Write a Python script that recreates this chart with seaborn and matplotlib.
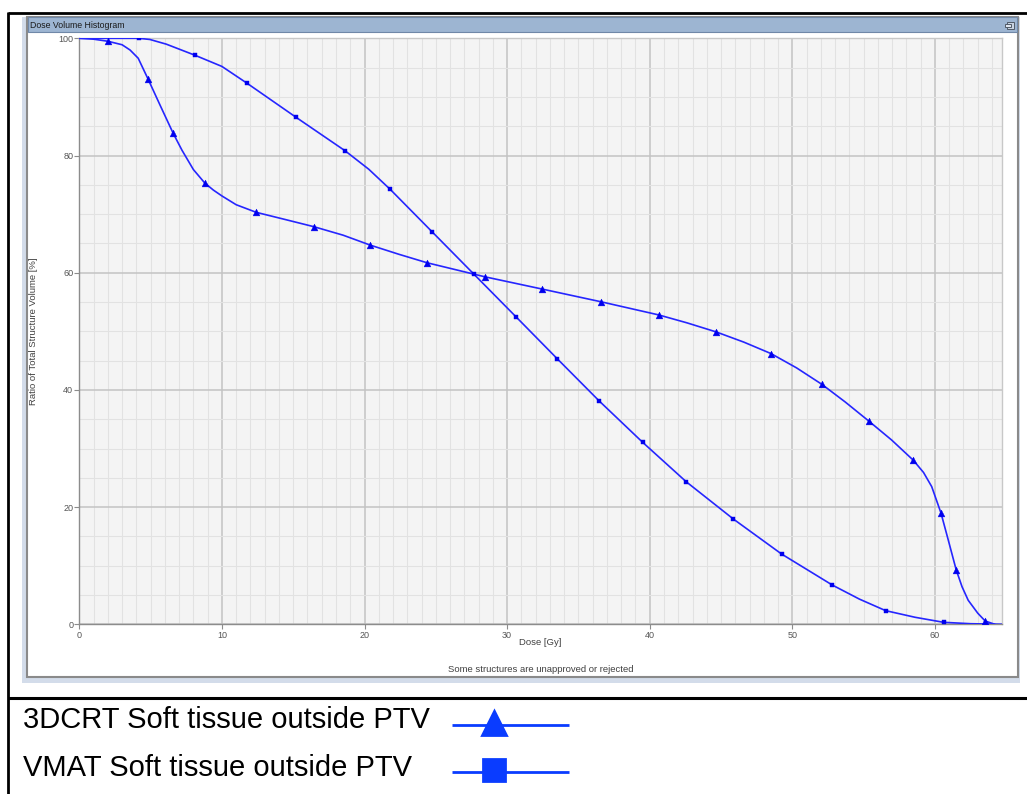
import matplotlib
matplotlib.use("Agg")
import matplotlib.pyplot as plt
import seaborn as sns
import pandas as pd
from matplotlib.patches import Rectangle
from matplotlib.lines import Line2D
from matplotlib.ticker import MultipleLocator, FixedLocator

# ---------------- data ----------------
series_labels = ["3DCRT Soft tissue outside PTV", "VMAT Soft tissue outside PTV"]

# 3DCRT curve
crt_line_dose = [0, 1.0, 2.0, 3.0, 3.56, 4.13, 4.83, 5.7, 6.58, 7.2, 8.0, 8.8, 9.4, 10.0, 11.0,
                 12.41, 14.4, 16.45, 18.5, 20.41, 22.4, 24.38, 28.44, 32.47, 36.56, 40.62,
                 42.6, 44.65, 46.6, 48.5, 50.3, 52.07, 53.7, 55.35, 56.96, 58.48, 59.2,
                 59.77, 60.42, 60.93, 61.49, 61.9, 62.33, 63.0, 63.52, 64.2]
crt_line_vol = [100, 99.85, 99.5, 98.9, 98.0, 96.6, 93.0, 88.4, 83.8, 80.9, 77.6, 75.3, 74.1,
                73.1, 71.6, 70.3, 69.1, 67.85, 66.4, 64.7, 63.15, 61.7, 59.3, 57.2, 55.05,
                52.8, 51.45, 49.9, 48.15, 46.2, 43.75, 40.95, 37.95, 34.7, 31.45, 28.0,
                25.9, 23.5, 19.0, 14.4, 9.27, 6.4, 4.1, 1.9, 0.56, 0.0]
# 3DCRT markers
crt_mark_dose = [2.0, 4.83, 6.58, 8.8, 12.41, 16.45, 20.41, 24.38, 28.44, 32.47, 36.56,
                 40.62, 44.65, 48.5, 52.07, 55.35, 58.48, 60.42, 61.49, 63.52]
crt_mark_vol = [99.5, 93.0, 83.8, 75.3, 70.3, 67.85, 64.7, 61.7, 59.3, 57.2, 55.05,
                52.8, 49.9, 46.2, 40.95, 34.7, 28.0, 19.0, 9.27, 0.56]

# VMAT curve
vmat_line_dose = [0, 2.0, 4.18, 4.95, 6.1, 8.12, 10.0, 11.78, 15.21, 18.64, 20.3, 21.81,
                  24.73, 27.69, 30.61, 33.52, 36.46, 39.5, 42.57, 45.86, 49.24, 52.8,
                  54.7, 56.54, 58.6, 60.6, 62.5, 64.7]
vmat_line_vol = [100, 100, 100, 99.8, 99.0, 97.1, 95.2, 92.3, 86.5, 80.8, 77.65, 74.2,
                 67.0, 59.7, 52.5, 45.3, 38.1, 31.06, 24.3, 17.97, 12.0, 6.7,
                 4.3, 2.33, 1.2, 0.34, 0.1, 0.0]
# VMAT markers
vmat_mark_dose = [4.18, 8.12, 11.78, 15.21, 18.64, 21.81, 24.73, 27.69, 30.61, 33.52,
                  36.46, 39.5, 42.57, 45.86, 49.24, 52.8, 56.54, 60.6]
vmat_mark_vol = [100, 97.1, 92.3, 86.5, 80.8, 74.2, 67.0, 59.7, 52.5, 45.3,
                 38.1, 31.06, 24.3, 17.97, 12.0, 6.7, 2.33, 0.34]

x_ticks = [0, 10, 20, 30, 40, 50, 60]
y_ticks = [0, 20, 40, 60, 80, 100]
x_label = "Dose [Gy]"
y_label = "Ratio of Total Structure Volume [%]"
window_title = "Dose Volume Histogram"
footnote = "Some structures are unapproved or rejected"

# ---------------- styling ----------------
W, H = 1027, 794
sns.set_style("ticks")
plt.rcParams["font.family"] = ["Liberation Sans", "DejaVu Sans"]

LINE_BLUE = "#2626ff"
MARK_BLUE = "#0000ee"
LEG_BLUE = "#0a3cff"


def fx(px):
    return px / W


def fy(py):
    return 1 - py / H


fig = plt.figure(figsize=(W / 100, H / 100), dpi=100)
fig.patch.set_facecolor("white")

# window frame pieces (drawn behind the axes)
fig.patches.append(Rectangle((fx(22), fy(683)), fx(1020) - fx(22), fy(17) - fy(683),
                             transform=fig.transFigure, facecolor="#d3dcea",
                             edgecolor="none", zorder=-10))
fig.patches.append(Rectangle((fx(26.5), fy(677)), fx(1018) - fx(26.5), fy(17) - fy(677),
                             transform=fig.transFigure, facecolor="white",
                             edgecolor="#8a8a8a", lw=1.5, zorder=-9))
fig.patches.append(Rectangle((fx(27.5), fy(32)), fx(1017) - fx(27.5), fy(17.5) - fy(32),
                             transform=fig.transFigure, facecolor="#9db5d2",
                             edgecolor="#7088a8", lw=0.8, zorder=-8))
# restore icon in title bar
fig.patches.append(Rectangle((fx(1007), fy(29)), fx(1014) - fx(1007), fy(22) - fy(29),
                             transform=fig.transFigure, facecolor="#c8d3e2",
                             edgecolor="#505a68", lw=0.7, zorder=-7))
fig.patches.append(Rectangle((fx(1005), fy(27)), fx(1011) - fx(1005), fy(24) - fy(27),
                             transform=fig.transFigure, facecolor="#dde4ee",
                             edgecolor="#505a68", lw=0.7, zorder=-6))

# black outer lines
fig.add_artist(Line2D([fx(8), fx(1027)], [fy(13), fy(13)], transform=fig.transFigure,
                      color="black", lw=2.0, solid_capstyle="butt"))
fig.add_artist(Line2D([fx(8), fx(8)], [fy(12), fy(794)], transform=fig.transFigure,
                      color="black", lw=2.0, solid_capstyle="butt"))
fig.add_artist(Line2D([fx(8), fx(1027)], [fy(697.5), fy(697.5)], transform=fig.transFigure,
                      color="black", lw=2.2, solid_capstyle="butt"))

fig.text(fx(29.5), fy(25), window_title, fontsize=6.3, color="#1a1a1a",
         ha="left", va="center")

# ---------------- axes ----------------
left, right, top, bottom = 79.3, 1002, 38.3, 624.3
ax = fig.add_axes([fx(left), fy(bottom), fx(right) - fx(left), fy(top) - fy(bottom)])
ax.set_facecolor("#f4f4f4")

crt_line = pd.DataFrame({"dose": crt_line_dose, "vol": crt_line_vol})
vmat_line = pd.DataFrame({"dose": vmat_line_dose, "vol": vmat_line_vol})
crt_mark = pd.DataFrame({"dose": crt_mark_dose, "vol": crt_mark_vol})
vmat_mark = pd.DataFrame({"dose": vmat_mark_dose, "vol": vmat_mark_vol})

sns.lineplot(data=crt_line, x="dose", y="vol", ax=ax, color=LINE_BLUE, lw=1.2,
             sort=False, estimator=None, zorder=3)
sns.lineplot(data=vmat_line, x="dose", y="vol", ax=ax, color=LINE_BLUE, lw=1.2,
             sort=False, estimator=None, zorder=3)
sns.scatterplot(data=crt_mark, x="dose", y="vol", ax=ax, marker="^", s=24,
                color=MARK_BLUE, edgecolor=MARK_BLUE, linewidth=0.3, zorder=4)
sns.scatterplot(data=vmat_mark, x="dose", y="vol", ax=ax, marker="s", s=12,
                color=MARK_BLUE, edgecolor=MARK_BLUE, linewidth=0.3, zorder=4)

ax.set_xlim(0, 64.7)
ax.set_ylim(0, 100)
ax.xaxis.set_major_locator(FixedLocator(x_ticks))
ax.yaxis.set_major_locator(FixedLocator(y_ticks))
ax.xaxis.set_minor_locator(MultipleLocator(1))
ax.yaxis.set_minor_locator(MultipleLocator(5))
ax.set_axisbelow(True)
ax.grid(which="minor", color="#e2e2e2", lw=0.8)
ax.grid(which="major", color="#c3c3c3", lw=1.1)

for side in ["left", "bottom"]:
    ax.spines[side].set_color("#8c8c8c")
    ax.spines[side].set_linewidth(1.0)
for side in ["top", "right"]:
    ax.spines[side].set_color("#c8c8c8")
    ax.spines[side].set_linewidth(1.0)

ax.tick_params(which="major", length=3.6, width=0.8, color="#8c8c8c",
               labelsize=6.5, labelcolor="#555555")
ax.tick_params(axis="x", pad=1.2)
ax.tick_params(axis="y", pad=0.8)
ax.tick_params(which="minor", length=0)

ax.set_xlabel(x_label, fontsize=6.8, color="#404040")
ax.set_ylabel(y_label, fontsize=6.8, color="#404040")
ax.xaxis.set_label_coords(0.5, (bottom - 638.0) / (bottom - top))
ax.yaxis.set_label_coords((38.0 - left) / (right - left), 0.5)

fig.text(fx(540.6), fy(670), footnote, fontsize=6.8, color="#404040",
         ha="center", va="center")

# ---------------- legend (drawn below the window) ----------------
leg_rows = [(728, 724.7, "^", 17), (776, 771.7, "s", 16.5)]
for label, (base_y, line_y, mk, ms) in zip(series_labels, leg_rows):
    fig.text(fx(23), fy(base_y), label, fontsize=21, color="black",
             ha="left", va="baseline")
    fig.add_artist(Line2D([fx(451.7), fx(569)], [fy(line_y), fy(line_y)],
                          transform=fig.transFigure, color=LEG_BLUE, lw=2.0,
                          solid_capstyle="butt"))
    fig.add_artist(Line2D([fx(493.5)], [fy(line_y - 1.5 if mk == "^" else line_y - 2)],
                          transform=fig.transFigure, color=LEG_BLUE, marker=mk,
                          markersize=ms, markeredgewidth=2.0,
                          markeredgecolor=LEG_BLUE, markerfacecolor=LEG_BLUE,
                          linestyle="none", solid_joinstyle="round"))

fig.savefig("out.png", dpi=100)
